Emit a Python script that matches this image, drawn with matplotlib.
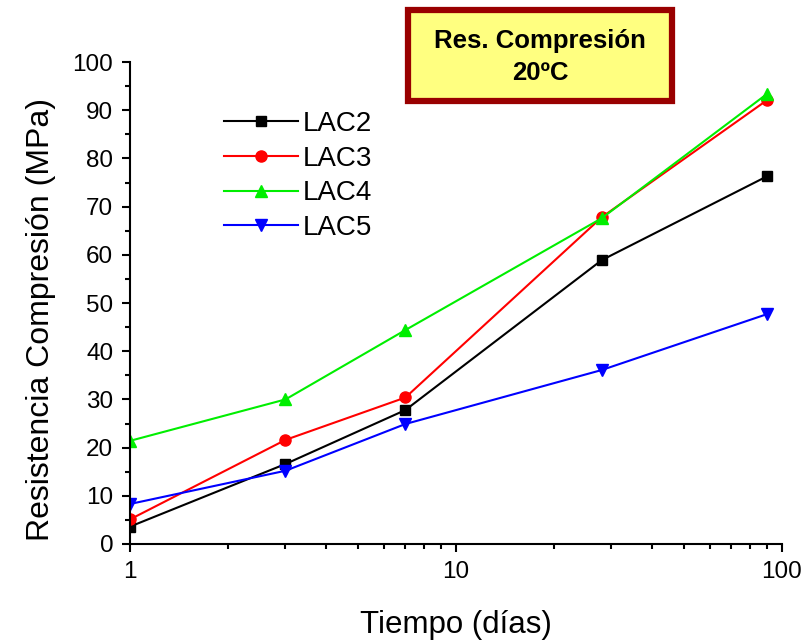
import matplotlib.pyplot as plt
from matplotlib.patches import Rectangle
from matplotlib.ticker import MultipleLocator, LogLocator, NullFormatter, FixedLocator, FixedFormatter

plt.rcParams['font.family'] = ['Liberation Sans', 'DejaVu Sans']

# edad del hormigon (dias)
dias = [1, 3, 7, 28, 90]

# resistencia a compresion (MPa)
lac2 = [3.6, 16.6, 27.8, 58.9, 76.3]
lac3 = [5.1, 21.6, 30.4, 67.8, 92.1]
lac4 = [21.4, 30.0, 44.4, 67.6, 93.4]
lac5 = [8.3, 15.2, 24.9, 36.1, 47.7]

series = [('LAC2', lac2, 'black', 's', 7.5),
          ('LAC3', lac3, 'red', 'o', 8),
          ('LAC4', lac4, '#00ee00', '^', 9),
          ('LAC5', lac5, 'blue', 'v', 9)]

fig = plt.figure(figsize=(8.12, 6.4), dpi=100)
ax = fig.add_axes([0.160, 0.150, 0.803, 0.753])

for name, vals, col, mk, ms in series:
    ax.plot(dias, vals, color=col, marker=mk, markersize=ms, linewidth=1.5, label=name)

ax.set_xscale('log')
ax.set_xlim(1, 100)
ax.set_ylim(0, 100)
ax.xaxis.set_major_locator(FixedLocator([1, 10, 100]))
ax.xaxis.set_major_formatter(FixedFormatter(['1', '10', '100']))
ax.xaxis.set_minor_locator(LogLocator(base=10, subs=range(2, 10)))
ax.xaxis.set_minor_formatter(NullFormatter())
ax.yaxis.set_major_locator(MultipleLocator(10))
ax.yaxis.set_minor_locator(MultipleLocator(5))

for s in ['top', 'right']:
    ax.spines[s].set_visible(False)
for s in ['left', 'bottom']:
    ax.spines[s].set_linewidth(1.5)

ax.tick_params(which='major', direction='out', length=6, width=1.5, labelsize=17.5, pad=6)
ax.tick_params(which='minor', direction='out', length=3.5, width=1.5)

ax.set_xlabel('Tiempo (días)', fontsize=22.5, labelpad=20)
ax.set_ylabel('Resistencia Compresión (MPa)', fontsize=23, labelpad=12)
ax.yaxis.label.set_y(0.465)

leg = ax.legend(loc='upper left', bbox_to_anchor=(0.106, 0.95), frameon=False,
                fontsize=20, handlelength=2.65, handletextpad=0.2, labelspacing=0.31)

# recuadro del titulo
fig.patches.append(Rectangle((0.502, 0.842), 0.326, 0.142, transform=fig.transFigure,
                             facecolor='#ffff80', edgecolor='#990000', linewidth=4.5))
fig.text(0.665, 0.911, 'Res. Compresión\n20ºC', ha='center', va='center',
         fontsize=18.5, fontweight='bold', linespacing=1.4)

fig.savefig('out.png', dpi=100)
